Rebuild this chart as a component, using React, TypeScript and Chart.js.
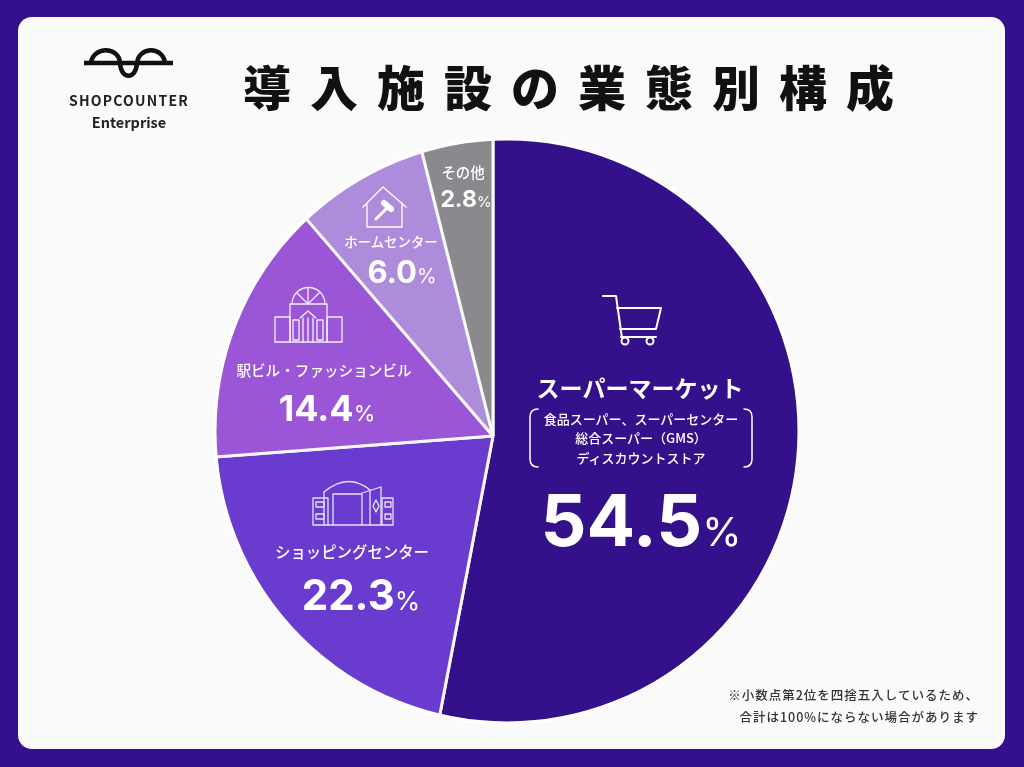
import { useEffect, useRef } from 'react';
import { Chart, registerables } from 'chart.js';

Chart.register(...registerables);

const titleText = '導入施設の業態別構成';
const categories = ['スーパーマーケット', 'ショッピングセンター', '駅ビル・ファッションビル', 'ホームセンター', 'その他'];
// the numbers printed on the picture
const printedShares = [54.5, 22.3, 14.4, 6.0, 2.8];
// the slices as actually drawn in the picture (measured from the spoke angles), they differ from the printed numbers
const drawnShares = [53.0, 20.8, 14.9, 7.4, 3.9];
const sliceColors = ['#34108a', '#6a3bcf', '#9a56d6', '#ae8cdc', '#8a898e'];
const subLines = ['食品スーパー、スーパーセンター', '総合スーパー（GMS）', 'ディスカウントストア'];
const noteLines = ['※小数点第2位を四捨五入しているため、', '合計は100%にならない場合があります'];

const JP = '"Noto Sans CJK JP", sans-serif';
const NUM = 'Inter, Roboto, sans-serif';

// outer circle of the pie, the spokes meet off-centre so the big pie is clipped to it
const circleX = 507;
const circleY = 431;
const circleR = 292;

const clipCircle = {
  id: 'clipCircle',
  beforeDatasetsDraw(chart: Chart) {
    const ctx = chart.ctx;
    ctx.save();
    ctx.beginPath();
    ctx.arc(circleX, circleY, circleR, 0, Math.PI * 2);
    ctx.clip();
  },
  afterDatasetsDraw(chart: Chart) {
    const ctx = chart.ctx;
    ctx.restore();
    ctx.beginPath();
    ctx.arc(circleX, circleY, circleR, 0, Math.PI * 2);
    ctx.strokeStyle = '#ffffff';
    ctx.lineWidth = 3;
    ctx.stroke();
  },
};

const nameStyle = [
  { x: 640, y: 387, size: 23, weight: 700 },
  { x: 352, y: 552, size: 15.4, weight: 500 },
  { x: 324, y: 370, size: 14.6, weight: 500 },
  { x: 391, y: 242, size: 13.4, weight: 500 },
  { x: 463, y: 172, size: 14.4, weight: 500 },
];
const valueStyle = [
  { x: 641, y: 517, size: 72, pct: 40 },
  { x: 361, y: 593, size: 42, pct: 26 },
  { x: 327, y: 406, size: 36, pct: 22 },
  { x: 402, y: 270, size: 31, pct: 20 },
  { x: 466, y: 198, size: 23, pct: 15 },
];

function Label({ x, y, size, weight, color, children, spacing }: any) {
  return (
    <div
      style={{
        position: 'absolute',
        left: x,
        top: y,
        transform: 'translate(-50%, -50%)',
        whiteSpace: 'nowrap',
        fontFamily: JP,
        fontSize: size,
        fontWeight: weight,
        color: color || '#fff',
        letterSpacing: spacing || 0,
        lineHeight: 1,
      }}
    >
      {children}
    </div>
  );
}

function Icons() {
  const line = { fill: 'none', stroke: '#fff', strokeLinejoin: 'round', strokeLinecap: 'round' } as const;
  return (
    <svg width={1024} height={767} style={{ position: 'absolute', left: 0, top: 0 }}>
      {/* logo */}
      <g fill="none" stroke="#111" strokeWidth={4.5}>
        <path d="M84 63H173" />
        <path d="M91 63C93 46 119 46 120 63C121 80 136 80 137 63C139 46 163 46 165 63" />
      </g>
      {/* cart */}
      <g {...line} strokeWidth={2}>
        <path d="M603 296H616L622 338" />
        <path d="M617 308H661L656 329H620" />
        <path d="M621 337H656" />
        <circle cx={625} cy={341} r={3.5} />
        <circle cx={650} cy={341} r={3.5} />
      </g>
      {/* mall */}
      <g {...line} strokeWidth={1.3} opacity={0.85}>
        <path d="M313 498H328V525H313Z" />
        <path d="M382 498H393V525H382Z" />
        <path d="M324 492Q348 472 370 490" />
        <path d="M324 492V525M328 525H381M333 494H362V525M333 494V525" />
        <path d="M362 493L381 487V525" />
        <path d="M370 490V525" />
        <path d="M316 502H324V507H316ZM316 514H324V519H316ZM385 502H391V507H385ZM385 514H391V519H385Z" />
        <path d="M376 500L379 506L376 512L373 506Z" />
      </g>
      {/* station building */}
      <g {...line} strokeWidth={1.3} opacity={0.9}>
        <path d="M275 317H290V342H275ZM327 317H342V342H327Z" />
        <path d="M290 304H327V342H290Z" />
        <path d="M292 304A16 16 0 0 1 325 304" />
        <path d="M308 304V288M308 304L297 293M308 304L319 293" />
        <path d="M300 318L308 311L316 318M303 318V342M313 318V342M308 318V342" />
        <path d="M293 320H299V340H293ZM317 320H323V340H317Z" />
      </g>
      {/* house */}
      <g {...line} strokeWidth={1.3}>
        <path d="M363 207L383 187L406 207M367 203V227H402V203" />
        <path d="M376 219L386 209" strokeWidth={3} />
        <path d="M384 203L391 209" strokeWidth={6} />
      </g>
      {/* brackets round the sub lines */}
      <g {...line} strokeWidth={1.5}>
        <path d="M538 409Q530 409 530 417V459Q530 467 538 467" />
        <path d="M744 409Q752 409 752 417V459Q752 467 744 467" />
      </g>
    </svg>
  );
}

export default function App() {
  const chartRef = useRef<HTMLCanvasElement>(null);

  useEffect(() => {
    document.body.style.margin = '0';
    if (!chartRef.current) return;
    const chart = new Chart(chartRef.current, {
      type: 'pie',
      data: {
        labels: categories,
        datasets: [
          {
            data: drawnShares,
            backgroundColor: sliceColors,
            borderColor: '#f8f8fa',
            borderWidth: 3,
          },
        ],
      },
      options: {
        responsive: false,
        animation: false,
        layout: { padding: { left: 0, right: 38, top: 105, bottom: 0 } },
        plugins: { legend: { display: false }, tooltip: { enabled: false } },
      },
      plugins: [clipCircle],
    });
    return () => chart.destroy();
  }, []);

  return (
    <div style={{ position: 'relative', width: 1024, height: 767, background: '#35108c', overflow: 'hidden' }}>
      <div style={{ position: 'absolute', left: 18, top: 17, width: 987, height: 732, background: '#fafafa', borderRadius: 14 }} />
      <canvas ref={chartRef} width={1024} height={767} style={{ position: 'absolute', left: 0, top: 0, display: 'block' }} />
      <Icons />

      <Label x={578} y={85} size={48} weight={900} color="#111" spacing={19}>{titleText}</Label>
      <Label x={129} y={100} size={14} weight={700} color="#222" spacing={1.2}>SHOPCOUNTER</Label>
      <Label x={129} y={122} size={14.5} weight={700} color="#222">Enterprise</Label>

      {categories.map((name, i) => (
        <Label key={name} x={nameStyle[i].x} y={nameStyle[i].y} size={nameStyle[i].size} weight={nameStyle[i].weight}>{name}</Label>
      ))}
      {subLines.map((text, i) => (
        <Label key={text} x={641} y={417.5 + i * 19.7} size={13} weight={500}>{text}</Label>
      ))}
      {printedShares.map((v, i) => (
        <Label key={i} x={valueStyle[i].x} y={valueStyle[i].y} size={valueStyle[i].size} weight={700}>
          <span style={{ fontFamily: NUM }}>{v.toFixed(1)}</span>
          <span style={{ fontFamily: NUM, fontSize: valueStyle[i].pct, fontWeight: 400 }}>%</span>
        </Label>
      ))}
      {noteLines.map((text, i) => (
        <div
          key={text}
          style={{
            position: 'absolute',
            right: 45,
            top: 687 + i * 22,
            whiteSpace: 'nowrap',
            fontFamily: JP,
            fontSize: 12.5,
            fontWeight: 500,
            color: '#333',
            letterSpacing: 1,
            lineHeight: '16px',
          }}
        >
          {text}
        </div>
      ))}
    </div>
  );
}
